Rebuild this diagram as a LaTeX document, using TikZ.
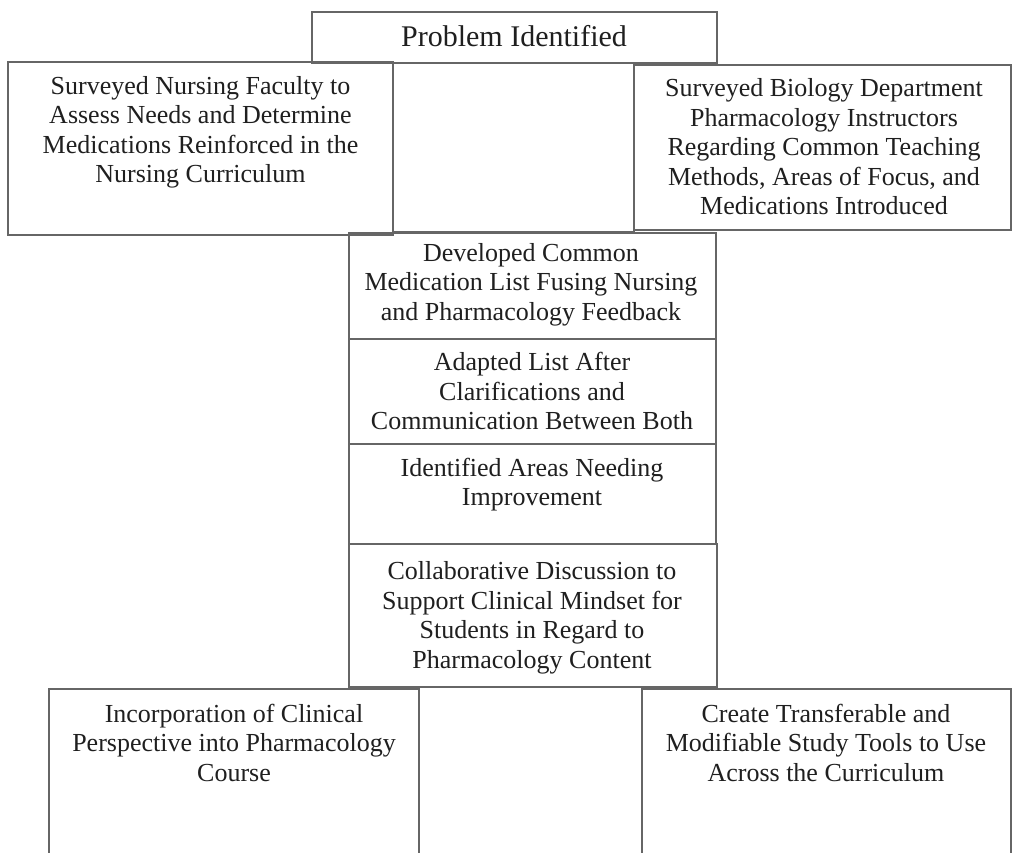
\documentclass[tikz,border=0pt]{standalone}
\usepackage{fontspec}
\setmainfont{Liberation Serif}
\definecolor{linec}{gray}{0.4}
\definecolor{txtc}{gray}{0.12}
\begin{document}
\begin{tikzpicture}[x=1pt,y=-1pt,
  box/.style={draw=linec,line width=1.3pt,anchor=north west,inner sep=0pt,outer sep=0pt},
  txt/.style={font=\fontsize{26}{29.5}\selectfont,align=center,anchor=north,inner sep=0pt,text=txtc,execute at begin node=\strut}]
\useasboundingbox (0,0) rectangle (1013,853);
\begin{scope}
\clip (0,0) rectangle (1013,853);
% boxes
\node[box,minimum width=241pt,minimum height=169pt] (blank) at (393,63) {};
\node[box,minimum width=405pt,minimum height=51pt] (prob) at (312,12) {};
\node[box,minimum width=385pt,minimum height=173pt] (left) at (8,62) {};
\node[box,minimum width=377pt,minimum height=165pt] (right) at (634,65) {};
\node[box,minimum width=367pt,minimum height=106pt] (dev) at (349,233) {};
\node[box,minimum width=367pt,minimum height=105pt] (adapt) at (349,339) {};
\node[box,minimum width=367pt,minimum height=100pt] (ident) at (349,444) {};
\node[box,minimum width=368pt,minimum height=143pt] (collab) at (349,544) {};
\node[box,minimum width=370pt,minimum height=190pt] (botl) at (49,689) {};
\node[box,minimum width=369pt,minimum height=190pt] (botr) at (642,689) {};
% texts
\node[txt,anchor=base,font=\fontsize{30}{34}\selectfont,execute at begin node={}] (probt) at (514,47) {Problem Identified};
\node[txt] (leftt) at (200.5,76) {Surveyed Nursing Faculty to\\Assess Needs and Determine\\Medications Reinforced in the\\Nursing Curriculum};
\node[txt] (rightt) at (824,78.5) {Surveyed Biology Department\\Pharmacology Instructors\\Regarding Common Teaching\\Methods, Areas of Focus, and\\Medications Introduced};
\node[txt] (devt) at (531,243) {Developed Common\\Medication List Fusing Nursing\\and Pharmacology Feedback};
\node[txt] (adaptt) at (532,352) {Adapted List After\\Clarifications and\\Communication Between Both};
\node[txt] (identt) at (532,457.5) {Identified Areas Needing\\Improvement};
\node[txt] (collabt) at (532,561.5) {Collaborative Discussion to\\Support Clinical Mindset for\\Students in Regard to\\Pharmacology Content};
\node[txt] (botlt) at (234,703.5) {Incorporation of Clinical\\Perspective into Pharmacology\\Course};
\node[txt] (botrt) at (826,703.5) {Create Transferable and\\Modifiable Study Tools to Use\\Across the Curriculum};
\end{scope}
\end{tikzpicture}
\end{document}
